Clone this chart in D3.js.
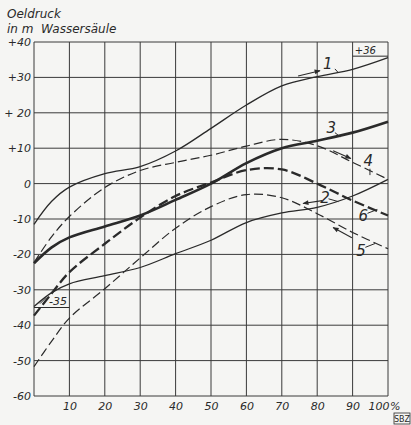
<!DOCTYPE html>
<html>
<head>
    <meta charset="utf-8">
    <title>Oeldruck</title>
    <script src="https://d3js.org/d3.v7.min.js"></script>
    <style>
        body { margin: 0; background: #f5f5f3; }
        svg { display: block; }
        text { font-family: "DejaVu Sans", sans-serif; font-style: italic; fill: #2a2a2a; }
    </style>
</head>
<body>
<div id="chart"></div>
<script>
    // values (x in %, y in m Wassersäule)
    var xPct = [0, 5, 10, 20, 30, 40, 50, 60, 70, 80, 90, 100];
    var curve1 = [-11.5, -5, -1, 2.8, 4.8, 9.2, 15.6, 22.2, 27.6, 30.2, 32.3, 35.6];
    var curve2 = [-34.7, -30.8, -28.3, -26, -23.7, -19.8, -16, -11, -8.3, -6.7, -3.5, 1.2];
    var curve3 = [-22.5, -18, -15.2, -12.1, -9, -4.6, 0, 5.8, 10, 12.1, 14.4, 17.5];
    var curve4 = [-22.3, -15, -9.3, -1.1, 3.7, 6, 8, 10.6, 12.5, 10.7, 6, 1.2];
    var curve5 = [-51.7, -44.5, -38, -29.7, -21, -12.6, -6.5, -3.1, -4, -8.5, -13.8, -18.4];
    var curve6 = [-37.3, -31, -25, -17, -9.6, -3.5, 0.3, 3.8, 4, 0, -4.8, -9];
    var yTicks = [40, 30, 20, 10, 0, -10, -20, -30, -40, -50, -60];
    var yTickLabels = ["+40", "+30", "+ 20", "+10", "0", "-10", "-20", "-30", "-40", "-50", "-60"];
    var xTicks = [10, 20, 30, 40, 50, 60, 70, 80, 90, 100];

    var series = [
        { name: "1", values: curve1, width: 1.3, dash: null },
        { name: "2", values: curve2, width: 1.3, dash: null },
        { name: "3", values: curve3, width: 2.6, dash: null },
        { name: "4", values: curve4, width: 1.2, dash: "9,4" },
        { name: "5", values: curve5, width: 1.2, dash: "9,4" },
        { name: "6", values: curve6, width: 2.3, dash: "10,4" }
    ];

    // curve numbers, leaders and arrows (data coordinates)
    var curveLabels = [
        { t: "1", x: 83, y: 34, lx1: 85, ly1: 32.4, lx2: 86, ly2: 31.3 },
        { t: "3", x: 84, y: 15.8, lx1: 85, ly1: 14.4, lx2: 86.5, ly2: 13.2 },
        { t: "4", x: 94.4, y: 6.5, lx1: 94.9, ly1: 4.2, lx2: 94.9, ly2: 2.4 },
        { t: "2", x: 82.2, y: -4, lx1: 83.2, ly1: -4.3, lx2: 86, ly2: -5.1 },
        { t: "6", x: 93, y: -9, lx1: 94.2, ly1: -8.4, lx2: 97, ly2: -7.3 },
        { t: "5", x: 92.4, y: -18.9, lx1: 93.6, ly1: -18, lx2: 96.4, ly2: -16.9 }
    ];
    var arrows = [
        { x1: 74.6, y1: 30.4, x2: 80.8, y2: 31.9 },
        { x1: 84.5, y1: 9.3, x2: 89.5, y2: 7.1 },
        { x1: 81.4, y1: -4.8, x2: 76, y2: -5.6 },
        { x1: 89.8, y1: -15.3, x2: 84.5, y2: -12.4 }
    ];

    var width = 411, height = 425;
    var svg = d3.select("#chart").append("svg")
        .attr("width", width)
        .attr("height", height);

    var x = d3.scaleLinear().domain([0, 100]).range([34, 388]);
    var y = d3.scaleLinear().domain([-60, 40]).range([396, 42]);
    var ink = "#2a2a2a";

    // grid
    var grid = svg.append("g").attr("stroke", "#3a3a3a").attr("stroke-width", 1);
    grid.selectAll(".h").data(yTicks).enter().append("line")
        .attr("x1", x(0)).attr("x2", x(100))
        .attr("y1", d => y(d)).attr("y2", d => y(d));
    grid.selectAll(".v").data([0].concat(xTicks)).enter().append("line")
        .attr("x1", d => x(d)).attr("x2", d => x(d))
        .attr("y1", y(40)).attr("y2", y(-60));

    // y axis labels
    var yAxis = d3.axisLeft(y).tickValues(yTicks)
        .tickSize(0).tickPadding(3)
        .tickFormat((d, i) => yTickLabels[i]);
    svg.append("g").attr("transform", "translate(" + x(0) + ",0)").call(yAxis)
        .call(g => g.select(".domain").remove())
        .selectAll("text").style("font-size", "11px").attr("fill", ink);

    // x axis labels
    var xAxis = d3.axisBottom(x).tickValues(xTicks).tickSize(0).tickPadding(6);
    svg.append("g").attr("transform", "translate(0," + y(-60) + ")").call(xAxis)
        .call(g => g.select(".domain").remove())
        .selectAll("text").style("font-size", "11px").attr("fill", ink)
        .filter(d => d === 100).attr("text-anchor", "end").attr("dx", 1);
    svg.append("text").attr("x", x(100) + 2).attr("y", y(-60) + 14)
        .style("font-size", "11px").text("%");

    // title
    svg.append("text").attr("x", 7).attr("y", 18).style("font-size", "12px").text("Oeldruck");
    svg.append("text").attr("x", 7).attr("y", 33).style("font-size", "12px")
        .attr("xml:space", "preserve").text("in m  Wassersäule");

    // curves
    var line = d3.line()
        .x((d, i) => x(xPct[i]))
        .y(d => y(d))
        .curve(d3.curveCatmullRom.alpha(0.5));
    svg.append("g").selectAll("path").data(series).enter().append("path")
        .attr("d", d => line(d.values))
        .attr("fill", "none")
        .attr("stroke", ink)
        .attr("stroke-width", d => d.width)
        .attr("stroke-dasharray", d => d.dash);

    // marker for arrows
    svg.append("defs").append("marker")
        .attr("id", "head").attr("viewBox", "0 0 10 10")
        .attr("refX", 9).attr("refY", 5)
        .attr("markerWidth", 8).attr("markerHeight", 6)
        .attr("markerUnits", "userSpaceOnUse")
        .attr("orient", "auto")
        .append("path").attr("d", "M0,1 L10,5 L0,9 Z").attr("fill", ink);

    svg.append("g").selectAll("line").data(arrows).enter().append("line")
        .attr("x1", d => x(d.x1)).attr("y1", d => y(d.y1))
        .attr("x2", d => x(d.x2)).attr("y2", d => y(d.y2))
        .attr("stroke", ink).attr("stroke-width", 1.1)
        .attr("marker-end", "url(#head)");

    // curve numbers
    var lab = svg.append("g");
    lab.selectAll("line").data(curveLabels).enter().append("line")
        .attr("x1", d => x(d.lx1)).attr("y1", d => y(d.ly1))
        .attr("x2", d => x(d.lx2)).attr("y2", d => y(d.ly2))
        .attr("stroke", ink).attr("stroke-width", 1);
    lab.selectAll("text").data(curveLabels).enter().append("text")
        .attr("x", d => x(d.x)).attr("y", d => y(d.y))
        .attr("text-anchor", "middle").attr("dy", "0.36em")
        .style("font-size", "15px")
        .text(d => d.t);

    // end values
    svg.append("line").attr("x1", x(90)).attr("x2", x(100))
        .attr("y1", y(36)).attr("y2", y(36)).attr("stroke", ink);
    svg.append("text").attr("x", x(93.6)).attr("y", y(36) - 2)
        .attr("text-anchor", "middle").style("font-size", "10px").text("+36");
    svg.append("line").attr("x1", x(0)).attr("x2", x(10))
        .attr("y1", y(-35)).attr("y2", y(-35)).attr("stroke", ink);
    svg.append("line").attr("x1", x(1.7)).attr("y1", y(-33.9))
        .attr("x2", x(3.4)).attr("y2", y(-32.2)).attr("stroke", ink);
    svg.append("text").attr("x", x(6.8)).attr("y", y(-35) - 3)
        .attr("text-anchor", "middle").style("font-size", "11px").text("-35");

    // SBZ mark
    svg.append("rect").attr("x", 394).attr("y", 413).attr("width", 16).attr("height", 11)
        .attr("fill", "none").attr("stroke", ink).attr("stroke-width", 0.8);
    svg.append("text").attr("x", 402).attr("y", 422).attr("text-anchor", "middle")
        .style("font-size", "8px").style("font-style", "normal").text("SBZ");
</script>
</body>
</html>
